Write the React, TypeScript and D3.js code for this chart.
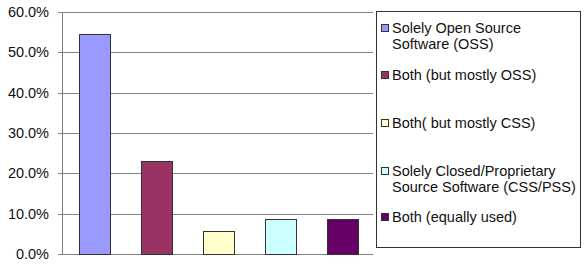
import { useEffect, useRef } from 'react';
import * as d3 from 'd3';

const categories = [
  'Solely Open Source Software (OSS)',
  'Both (but mostly OSS)',
  'Both( but mostly CSS)',
  'Solely Closed/Proprietary Source Software (CSS/PSS)',
  'Both (equally used)',
];
const values = [0.545, 0.23, 0.057, 0.086, 0.086];
const colors = ['#9999FF', '#993366', '#FFFFCC', '#CCFFFF', '#660066'];
const legendLines = [
  ['Solely Open Source', 'Software (OSS)'],
  ['Both (but mostly OSS)'],
  ['Both( but mostly CSS)'],
  ['Solely Closed/Proprietary', 'Source Software (CSS/PSS)'],
  ['Both (equally used)'],
];
const yTicks = [0, 0.1, 0.2, 0.3, 0.4, 0.5, 0.6];

const App = () => {
  const svgRef = useRef();

  useEffect(() => {
    const svg = d3.select(svgRef.current);
    svg.selectAll('*').remove();

    const font = '"Liberation Sans", Arial, sans-serif';
    const left = 62, right = 373, top = 12, bottom = 254;

    const x = d3.scaleBand().domain(categories).range([left + 1, right]).paddingInner(0.5).paddingOuter(0.25);
    const y = d3.scaleLinear().domain([0, 0.6]).range([bottom, top]);

    // gridlines
    svg.append('g')
      .selectAll('line')
      .data(yTicks)
      .enter()
      .append('line')
      .attr('x1', left - 4)
      .attr('x2', right)
      .attr('y1', d => Math.round(y(d)) + 0.5)
      .attr('y2', d => Math.round(y(d)) + 0.5)
      .attr('stroke', '#808080')
      .attr('stroke-width', 1);

    // y axis line
    svg.append('line')
      .attr('x1', left + 0.5)
      .attr('x2', left + 0.5)
      .attr('y1', top)
      .attr('y2', bottom)
      .attr('stroke', '#808080');

    // y labels
    svg.append('g')
      .selectAll('text')
      .data(yTicks)
      .enter()
      .append('text')
      .attr('x', left - 13)
      .attr('y', d => y(d) + 5)
      .attr('text-anchor', 'end')
      .attr('font-family', font)
      .attr('font-size', 14.5)
      .attr('fill', '#111')
      .text(d => d3.format('.1%')(d));

    // bars
    svg.append('g')
      .selectAll('rect')
      .data(values)
      .enter()
      .append('rect')
      .attr('x', (_, i) => Math.round(x(categories[i])) + 0.5)
      .attr('y', d => Math.round(y(d)) + 0.5)
      .attr('width', Math.round(x.bandwidth()))
      .attr('height', d => Math.round(bottom - y(d)))
      .attr('fill', (_, i) => colors[i])
      .attr('stroke', '#333')
      .attr('stroke-width', 1);

    // legend
    const legend = svg.append('g');
    legend.append('rect')
      .attr('x', 376.5)
      .attr('y', 11.5)
      .attr('width', 204)
      .attr('height', 236)
      .attr('fill', '#fff')
      .attr('stroke', '#333');

    const itemY = [28, 75, 123, 171, 217];
    legendLines.forEach((lines, i) => {
      legend.append('rect')
        .attr('x', 381.5)
        .attr('y', itemY[i] - 3.5)
        .attr('width', 7)
        .attr('height', 7)
        .attr('fill', colors[i])
        .attr('stroke', '#333');
      lines.forEach((line, j) => {
        legend.append('text')
          .attr('x', 392)
          .attr('y', itemY[i] + 5 + j * 15.5)
          .attr('font-family', font)
          .attr('font-size', 14.5)
          .attr('fill', '#111')
          .text(line);
      });
    });
  }, []);

  return (
    <svg
      ref={svgRef}
      width={588}
      height={265}
      style={{ position: 'absolute', left: 0, top: 0, background: '#fff' }}
    ></svg>
  );
};

export default App;
